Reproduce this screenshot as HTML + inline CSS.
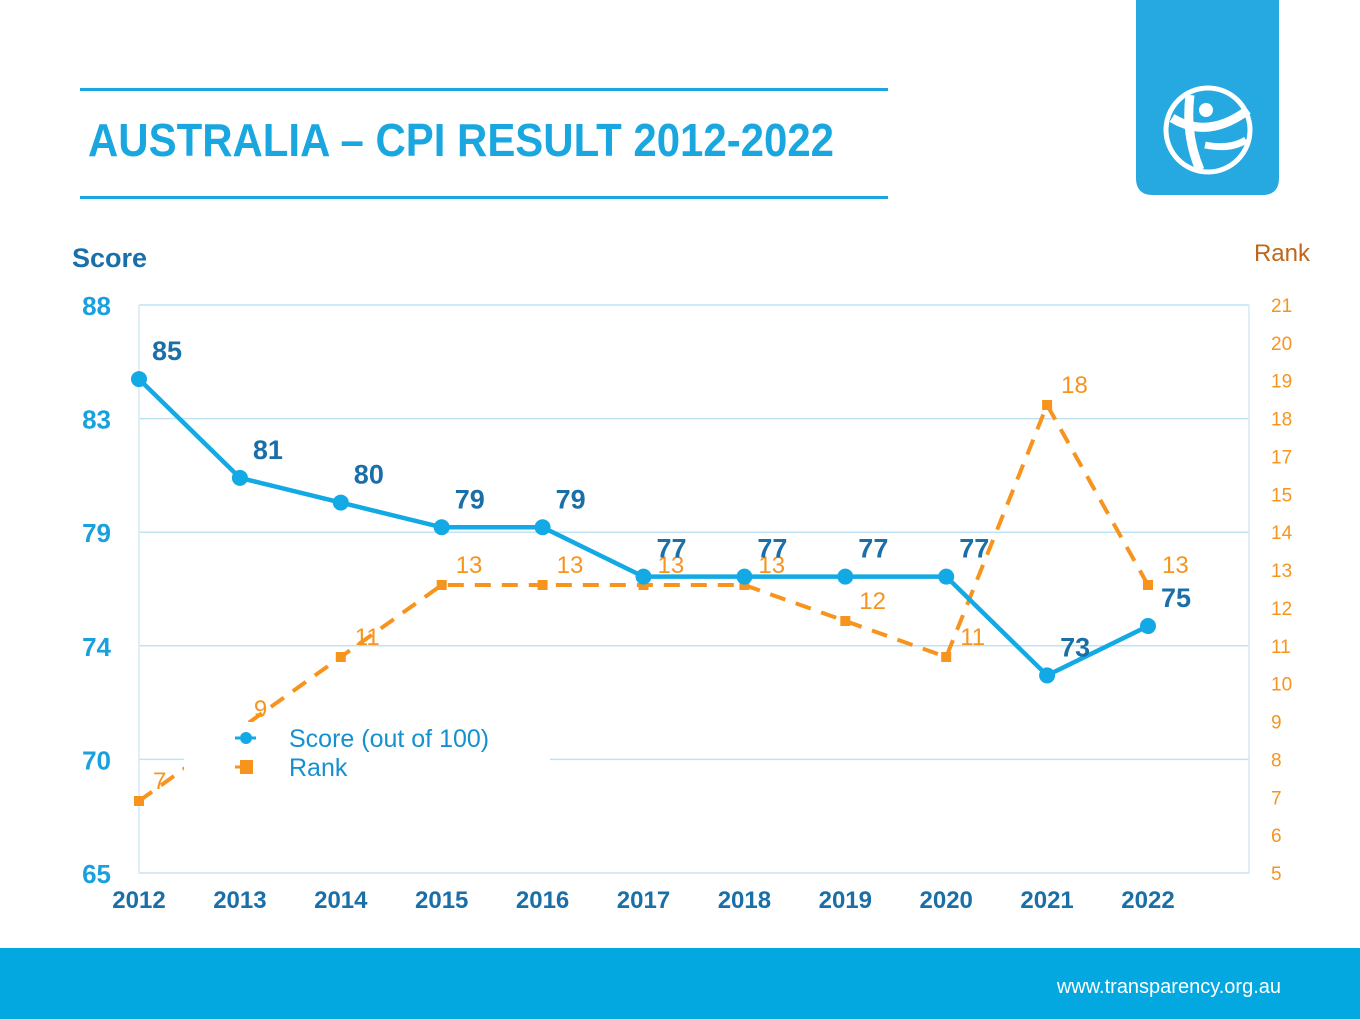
<!DOCTYPE html>
<html><head><meta charset="utf-8"><style>
html,body{margin:0;padding:0;background:#fff;}
body{width:1360px;height:1019px;position:relative;overflow:hidden;font-family:"Liberation Sans",Arial,sans-serif;}
</style></head><body>
<svg width="1360" height="1019" viewBox="0 0 1360 1019" xmlns="http://www.w3.org/2000/svg" style="position:absolute;left:0;top:0" font-family="Liberation Sans, Arial, sans-serif">
<g>
<rect x="80" y="88" width="808" height="3" fill="#1aa7e0"/>
<rect x="80" y="196" width="808" height="3" fill="#1aa7e0"/>
<text x="88" y="156" font-size="46" font-weight="bold" fill="#1aa7e0" textLength="746" lengthAdjust="spacingAndGlyphs">AUSTRALIA – CPI RESULT 2012-2022</text>
</g>
<g>
<path d="M1136 0 H1279 V178 Q1279 195 1262 195 H1153 Q1136 195 1136 178 Z" fill="#25a9e0"/>
<circle cx="1208" cy="130" r="42" fill="none" stroke="#fff" stroke-width="5"/>
<path d="M1172 118 Q1208 140 1248 110" stroke="#fff" stroke-width="9" fill="none"/>
<path d="M1190 95 Q1185 135 1200 170" stroke="#fff" stroke-width="9" fill="none"/>
<path d="M1205 145 Q1230 150 1246 140" stroke="#fff" stroke-width="7" fill="none"/>
<circle cx="1206" cy="110" r="7" fill="#fff"/>
</g>
<g>
<rect x="0" y="948" width="1360" height="71" fill="#04a8e0"/>
<text x="1281" y="993" font-size="20" fill="#fff" text-anchor="end">www.transparency.org.au</text>
</g>
<text x="72" y="267" font-size="27" font-weight="bold" fill="#1b6fa8">Score</text>
<text x="1310" y="261" font-size="24" fill="#c0661a" text-anchor="end">Rank</text>
<g id="chart"></g>
</svg>
<script>
const years=['2012','2013','2014','2015','2016','2017','2018','2019','2020','2021','2022'];
const scores=[85,81,80,79,79,77,77,77,77,73,75];
const ranks=[7,9,11,13,13,13,13,12,11,18,13];
const leftTicks=['88','83','79','74','70','65'];
const rightTicks=['21','20','19','18','17','15','14','13','12','11','10','9','8','7','6','5'];
const NS='http://www.w3.org/2000/svg';
const g=document.getElementById('chart');
const X0=139,DX=100.9,YT=305,YB=873,PR=1249;
const sMin=65,sMax=88,rMin=5,rMax=5+568/36;
const xs=i=>X0+i*DX;
const ys=v=>YB-(v-sMin)/(sMax-sMin)*(YB-YT);
const yr=v=>YB-(v-rMin)/(rMax-rMin)*(YB-YT);
function el(t,a,p){const e=document.createElementNS(NS,t);for(const k in a)e.setAttribute(k,a[k]);(p||g).appendChild(e);return e;}
// grid + left ticks
leftTicks.forEach((t,i)=>{const y=YT+i*(YB-YT)/(leftTicks.length-1);
 const l=el('line',{x1:X0,x2:PR,y1:y,y2:y,stroke:'#bfe3f5','stroke-width':1.5});
 
 
 const tx=el('text',{x:111,y:y+10,'font-size':26,'font-weight':'bold',fill:'#1aa0dd','text-anchor':'end'});tx.textContent=t;
 
 
});
const ax=el('path',{d:`M${X0} ${YT} V${YB} H${PR} V${YT}`,fill:'none',stroke:'#d6e8f5','stroke-width':1.5});


rightTicks.forEach((t,i)=>{const y=YT+i*(YB-YT)/(rightTicks.length-1);
 const tx=el('text',{x:1271,y:y+7,'font-size':19,fill:'#f7941d'});tx.textContent=t;
 
 
});
years.forEach((t,i)=>{const tx=el('text',{x:xs(i),y:908,'font-size':24,'font-weight':'bold',fill:'#1b6fa8','text-anchor':'middle'});tx.textContent=t;
 
 
});
// rank line
const rl=el('polyline',{points:ranks.map((v,i)=>xs(i)+','+yr(v)).join(' '),fill:'none',stroke:'#f7941d','stroke-width':4,'stroke-dasharray':'16,11'});


ranks.forEach((v,i)=>{const r=el('rect',{x:xs(i)-5,y:yr(v)-5,width:10,height:10,fill:'#f7941d'});
 
 
 const tx=el('text',{x:xs(i)+14,y:yr(v)-12,'font-size':24,fill:'#f7941d'});tx.textContent=v;
 
 
});
// score line
const sl=el('polyline',{points:scores.map((v,i)=>xs(i)+','+ys(v)).join(' '),fill:'none',stroke:'#12a9e5','stroke-width':4.5});


scores.forEach((v,i)=>{const c=el('circle',{cx:xs(i),cy:ys(v),r:8,fill:'#12a9e5'});
 
 
 const tx=el('text',{x:xs(i)+13,y:ys(v)-19,'font-size':27,'font-weight':'bold',fill:'#1b6fa8'});tx.textContent=v;
 
 
});
// legend
const lg=el('g',{});


el('rect',{x:184,y:722,width:366,height:80,fill:'#fff'},lg);
el('line',{x1:235,x2:258,y1:738,y2:738,stroke:'#12a9e5','stroke-width':3,'stroke-dasharray':'5,3'},lg);
el('circle',{cx:246,cy:738,r:6,fill:'#12a9e5'},lg);
el('line',{x1:235,x2:250,y1:767,y2:767,stroke:'#f7941d','stroke-width':3},lg);
el('rect',{x:240,y:760,width:13,height:14,fill:'#f7941d'},lg);
const t1=el('text',{x:289,y:747,'font-size':25,fill:'#1590d0'},lg);t1.textContent='Score (out of 100)';


const t2=el('text',{x:289,y:776,'font-size':25,fill:'#1590d0'},lg);t2.textContent='Rank';


</script>
</body></html>
